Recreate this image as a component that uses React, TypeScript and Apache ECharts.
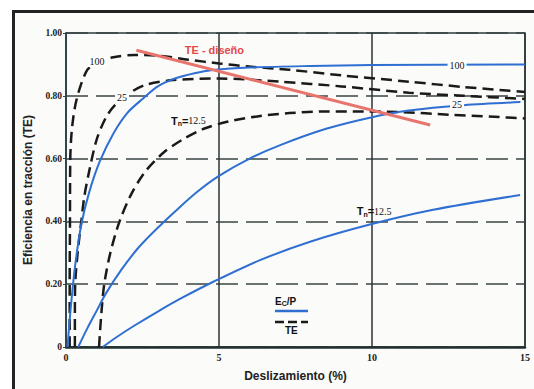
import React, { useEffect, useRef } from "react";
import * as echarts from "echarts";

// Deslizamiento (%) vs eficiencia
const xTicks = [0, 5, 10, 15];
const yTicks = [0, 0.2, 0.4, 0.6, 0.8, 1.0];

// Ec/P (blue, solid)
const ecp100: [number, number][] = [
  [0.05, 0], [0.15, 0.12], [0.3, 0.26], [0.5, 0.39], [0.75, 0.49], [1.1, 0.59],
  [1.55, 0.68], [2.0, 0.745], [2.5, 0.79], [3.0, 0.83], [3.56, 0.855], [4.2, 0.872],
  [4.8, 0.882], [6, 0.89], [8, 0.895], [10, 0.898], [15, 0.9],
];
const ecp25: [number, number][] = [
  [0.4, 0], [0.7, 0.06], [1.0, 0.115], [1.3, 0.17], [1.8, 0.245], [2.4, 0.32],
  [3.0, 0.38], [3.6, 0.435], [4.3, 0.495], [5, 0.545], [6, 0.6], [7, 0.643],
  [8.5, 0.695], [10, 0.732], [11.2, 0.753], [13, 0.77], [14.85, 0.78],
];
const ecp12: [number, number][] = [
  [1.2, 0], [1.6, 0.028], [2.2, 0.066], [3, 0.113], [3.8, 0.157], [4.8, 0.207],
  [6.3, 0.275], [8, 0.336], [9.93, 0.39], [12, 0.437], [14.84, 0.484],
];

// TE (black, dashed)
const te100: [number, number][] = [
  [0.12, 0], [0.12, 0.2], [0.13, 0.4], [0.14, 0.6], [0.2, 0.7], [0.35, 0.79],
  [0.68, 0.88], [1.0, 0.905], [1.5, 0.922], [2.25, 0.93], [3, 0.928], [4, 0.915],
  [5, 0.903], [6, 0.893], [7.3, 0.883], [9, 0.865], [11.2, 0.845], [13, 0.828], [15, 0.812],
];
const te25: [number, number][] = [
  [0.29, 0], [0.29, 0.1], [0.3, 0.2], [0.38, 0.3], [0.5, 0.4], [0.6, 0.48],
  [0.78, 0.57], [1.0, 0.66], [1.3, 0.73], [1.6, 0.77], [2.1, 0.81], [2.6, 0.835],
  [3.5, 0.85], [5, 0.855], [7, 0.845], [9, 0.83], [11.2, 0.81], [13, 0.8], [15, 0.79],
];
const te12: [number, number][] = [
  [1.08, 0], [1.15, 0.1], [1.25, 0.2], [1.45, 0.3], [1.75, 0.4], [2.15, 0.49],
  [2.6, 0.56], [3.2, 0.62], [3.8, 0.66], [4.5, 0.695], [5.3, 0.718], [6.3, 0.735],
  [7.3, 0.745], [8.5, 0.75], [9.7, 0.75], [11, 0.748], [12.5, 0.74], [14, 0.733], [15, 0.728],
];

// TE - diseño (red)
const teDesign: [number, number][] = [[2.3, 0.945], [11.9, 0.707]];

const BLUE = "#2f6fd2";
const DARK = "#1a1a1a";
const RED = "#e8746e";

const numRich = {
  n: { fontFamily: "Liberation Serif", fontSize: 10, color: "#111" },
  t: { fontFamily: "Liberation Sans", fontWeight: "bold" as const, fontSize: 11, color: "#111" },
  s: { fontFamily: "Liberation Sans", fontWeight: "bold" as const, fontSize: 7, color: "#111", verticalAlign: "bottom" as const, padding: [6, 0, 0, 0] },
};

function mp(coord: [number, number], text: string, bg = false) {
  return {
    coord,
    symbol: "rect",
    symbolSize: 0,
    label: {
      show: true,
      position: "inside",
      formatter: text,
      rich: numRich,
      backgroundColor: bg ? "#ffffff" : "transparent",
      padding: bg ? [0, 2] : 0,
    },
  };
}

export default function App() {
  const ref = useRef<HTMLDivElement>(null);
  useEffect(() => {
    if (!ref.current) return;
    const chart = echarts.init(ref.current, undefined, { renderer: "svg" });
    const dashed = { color: DARK, width: 2.5, type: [11, 6] as number[] };
    chart.setOption({
      animation: false,
      grid: {
        left: 66, top: 33, right: 9, bottom: 42,
        show: true, borderColor: "#2d3b3b", borderWidth: 1.5, backgroundColor: "transparent",
      },
      xAxis: {
        type: "value", min: 0, max: 15, interval: 5,
        name: "Deslizamiento (%)", nameLocation: "middle", nameGap: 23,
        nameTextStyle: { fontFamily: "Liberation Sans", fontWeight: "bold", fontSize: 12, color: "#222" },
        axisLine: { show: true, lineStyle: { color: "#223030", width: 2.5 } },
        axisTick: { show: false },
        axisLabel: {
          fontFamily: "Liberation Serif", fontWeight: "bold", fontSize: 10, color: "#222", margin: 5,
          formatter: (v: number) => (xTicks.includes(v) ? String(v) : ""),
        },
        splitLine: { show: true, lineStyle: { color: "#2b3535", width: 1.5, type: "solid" } },
      },
      yAxis: {
        type: "value", min: 0, max: 1, interval: 0.2,
        name: "Eficiencia en tracción (TE)", nameLocation: "middle", nameGap: 30, nameRotate: 90,
        nameTextStyle: { fontFamily: "Liberation Sans", fontWeight: "bold", fontSize: 12, color: "#222" },
        axisLine: { show: true, lineStyle: { color: "#2d4a50", width: 1.5 } },
        axisTick: { show: true, length: 3, lineStyle: { color: "#2d4a50" } },
        axisLabel: {
          fontFamily: "Liberation Serif", fontWeight: "bold", fontSize: 9.5, color: "#222", margin: 4,
          formatter: (v: number) => {
            const t = yTicks.find((y) => Math.abs(y - v) < 1e-6);
            if (t === undefined) return "";
            return t === 0 ? "0" : t.toFixed(2);
          },
        },
        splitLine: { show: true, lineStyle: { color: "#3a4444", width: 1.5, type: [22, 8] } },
      },
      series: [
        {
          type: "line", data: te100, smooth: 0.3, showSymbol: false, lineStyle: dashed, z: 3,
          markPoint: { data: [mp([1.01, 0.908], "{n|100}", true)] },
        },
        {
          type: "line", data: te25, smooth: 0.3, showSymbol: false, lineStyle: dashed, z: 3,
          markPoint: { data: [mp([1.83, 0.793], "{n|25}", true)] },
        },
        {
          type: "line", data: te12, smooth: 0.3, showSymbol: false, lineStyle: dashed, z: 3,
          markPoint: { data: [mp([4.0, 0.72], "{t|T}{s|n}{t|=}{n|12.5}")] },
        },
        {
          type: "line", data: ecp100, smooth: 0.3, showSymbol: false, lineStyle: { color: BLUE, width: 2 }, z: 4,
          markPoint: { data: [mp([12.78, 0.898], "{n|100}", true)] },
        },
        {
          type: "line", data: ecp25, smooth: 0.3, showSymbol: false, lineStyle: { color: BLUE, width: 2 }, z: 4,
          markPoint: { data: [mp([12.78, 0.771], "{n|25}", true)] },
        },
        {
          type: "line", data: ecp12, smooth: 0.3, showSymbol: false, lineStyle: { color: BLUE, width: 2 }, z: 4,
          markPoint: { data: [mp([10.07, 0.432], "{t|T}{s|n}{t|=}{n|12.5}")] },
        },
        {
          type: "line", data: teDesign, showSymbol: false, lineStyle: { color: RED, width: 3 }, z: 5,
          markPoint: {
            data: [{
              coord: [4.85, 0.945], symbolSize: 0,
              label: { show: true, position: "inside", formatter: "TE - diseño", fontFamily: "Liberation Sans", fontWeight: "bold", fontSize: 11, color: "#e5484a" },
            }],
          },
        },
      ],
      graphic: [
        {
          type: "text", left: 275, top: 296,
          style: {
            text: "{a|E}{b|C}{a|/P}",
            rich: {
              a: { fontFamily: "Liberation Sans", fontWeight: "bold", fontSize: 10, fill: "#111" },
              b: { fontFamily: "Liberation Sans", fontWeight: "bold", fontSize: 7, fill: "#111", verticalAlign: "bottom", padding: [5, 0, 0, 0] },
            },
          },
        },
        { type: "line", shape: { x1: 275, y1: 311, x2: 308, y2: 311 }, style: { stroke: BLUE, lineWidth: 2.5 } },
        { type: "line", shape: { x1: 275, y1: 322, x2: 308, y2: 322 }, style: { stroke: DARK, lineWidth: 2.5, lineDash: [9, 4] } },
        {
          type: "text", left: 285, top: 325,
          style: { text: "TE", font: "bold 10px 'Liberation Sans'", fill: "#111" },
        },
      ],
    });
    return () => chart.dispose();
  }, []);
  return (
    <div style={{ position: "fixed", left: 0, top: 0, width: 534, height: 389, background: "#fff", overflow: "hidden" }}>
      <div style={{ position: "absolute", left: 12, top: 10, width: 560, height: 420, border: "3px solid #222", background: "#fbfbf9", boxSizing: "border-box" }} />
      <div ref={ref} style={{ position: "absolute", left: 0, top: 0, width: 534, height: 389 }} />
    </div>
  );
}
